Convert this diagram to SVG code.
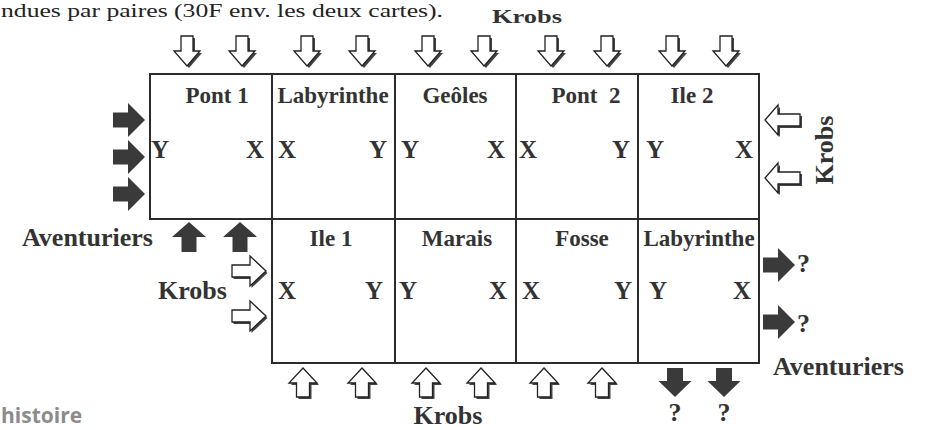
<svg xmlns="http://www.w3.org/2000/svg" width="926" height="430" viewBox="0 0 926 430">
<style>
.cell{fill:#fff;stroke:#2b2b2b;stroke-width:2}
.t{font-family:"Liberation Serif","Times New Roman",serif;font-weight:bold;fill:#333}
.title{font-size:23px;text-anchor:middle}
.xy{font-size:25px}
.lbl{font-size:26px}
.end{text-anchor:end}
.mid{text-anchor:middle}
.solid{fill:#3a3a3a}
.hol{fill:#fff;stroke:#222;stroke-width:1.3;stroke-linejoin:miter}
.sh{fill:#444}
</style>
<defs>
<path id="pSR" d="M0,-7.5 H15 V-17 L32,0 L15,17 V7.5 H0 Z"/>
<path id="pSU" d="M0,0 L17,15 H7.5 V30 H-7.5 V15 H-17 Z"/>
<path id="pSD" d="M-8,0 H8 V13 H16.5 L0,29 L-16.5,13 H-8 Z"/>
<path id="pHD" d="M-6,0 H6 V15 H13 L0,30 L-13,15 H-6 Z"/>
<path id="pHU" d="M0,0 L14,15 H6.5 V29 H-6.5 V15 H-14 Z"/>
<path id="pHR" d="M0,-6 H18 V-15 L34,0 L18,15 V6 H0 Z"/>
<path id="pHL" d="M0,0 L13,-15 V-6 H35 V6 H13 V15 Z"/>
<g id="aSR" class="solid"><use href="#pSR"/></g>
<g id="aSU" class="solid"><use href="#pSU"/></g>
<g id="aSD" class="solid"><use href="#pSD"/></g>
<g id="aHD"><use href="#pHD" class="sh" transform="translate(2,2)"/><use href="#pHD" class="hol"/></g>
<g id="aHU"><use href="#pHU" class="sh" transform="translate(2,2)"/><use href="#pHU" class="hol"/></g>
<g id="aHR"><use href="#pHR" class="sh" transform="translate(1.5,2)"/><use href="#pHR" class="hol"/></g>
<g id="aHL"><use href="#pHL" class="sh" transform="translate(2,2)"/><use href="#pHL" class="hol"/></g>
</defs>
<rect width="926" height="430" fill="#fff"/>
<text x="1" y="17" font-family="'Liberation Serif','Times New Roman',serif" font-size="18" fill="#222" textLength="442" lengthAdjust="spacingAndGlyphs">ndues par paires (30F env. les deux cartes).</text>

<g id="top-pont1">
<rect class="cell" x="150" y="74" width="122" height="145"/>
<text class="t title" x="217" y="103">Pont 1</text>
<text class="t xy" x="151" y="158">Y</text>
<text class="t xy end" x="264" y="158">X</text>
</g>
<g id="top-labyrinthe">
<rect class="cell" x="272" y="74" width="123" height="145"/>
<text class="t title" x="333" y="103">Labyrinthe</text>
<text class="t xy" x="278" y="158">X</text>
<text class="t xy end" x="387" y="158">Y</text>
</g>
<g id="top-geoles">
<rect class="cell" x="395" y="74" width="121" height="145"/>
<text class="t title" x="455" y="103">Geôles</text>
<text class="t xy" x="401" y="158">Y</text>
<text class="t xy end" x="505" y="158">X</text>
</g>
<g id="top-pont2">
<rect class="cell" x="516" y="74" width="122" height="145"/>
<text class="t title" x="586" y="103" xml:space="preserve">Pont  2</text>
<text class="t xy" x="519" y="158">X</text>
<text class="t xy end" x="630" y="158">Y</text>
</g>
<g id="top-ile2">
<rect class="cell" x="638" y="74" width="121" height="145"/>
<text class="t title" x="692" y="103">Ile 2</text>
<text class="t xy" x="646" y="158">Y</text>
<text class="t xy end" x="753" y="158">X</text>
</g>

<g id="bot-ile1">
<rect class="cell" x="272" y="219" width="123" height="144"/>
<text class="t title" x="331" y="246">Ile 1</text>
<text class="t xy" x="278" y="299">X</text>
<text class="t xy end" x="383" y="299">Y</text>
</g>
<g id="bot-marais">
<rect class="cell" x="395" y="219" width="121" height="144"/>
<text class="t title" x="457" y="246">Marais</text>
<text class="t xy" x="399" y="299">Y</text>
<text class="t xy end" x="507" y="299">X</text>
</g>
<g id="bot-fosse">
<rect class="cell" x="516" y="219" width="122" height="144"/>
<text class="t title" x="582" y="246">Fosse</text>
<text class="t xy" x="522" y="299">X</text>
<text class="t xy end" x="632" y="299">Y</text>
</g>
<g id="bot-labyrinthe">
<rect class="cell" x="638" y="219" width="121" height="144"/>
<text class="t title" x="699" y="246">Labyrinthe</text>
<text class="t xy" x="649" y="299">Y</text>
<text class="t xy end" x="751" y="299">X</text>
</g>

<g id="connectors">
<use href="#aHD" x="187" y="36"/><use href="#aHD" x="242" y="36"/>
<use href="#aHD" x="307" y="36"/><use href="#aHD" x="362" y="36"/>
<use href="#aHD" x="428" y="36"/><use href="#aHD" x="484" y="36"/>
<use href="#aHD" x="551" y="36"/><use href="#aHD" x="607" y="36"/>
<use href="#aHD" x="672" y="36"/><use href="#aHD" x="726" y="36"/>
<use href="#aSR" x="113" y="120"/><use href="#aSR" x="113" y="157"/><use href="#aSR" x="113" y="194"/>
<use href="#aSU" x="189" y="222"/><use href="#aSU" x="240" y="222"/>
<use href="#aHR" x="232" y="271"/><use href="#aHR" x="232" y="316"/>
<use href="#aHL" x="765" y="120"/><use href="#aHL" x="765" y="178"/>
<use href="#aSR" x="763" y="265"/><use href="#aSR" x="763" y="322"/>
<use href="#aHU" x="303" y="368"/><use href="#aHU" x="362" y="368"/>
<use href="#aHU" x="426" y="368"/><use href="#aHU" x="481" y="368"/>
<use href="#aHU" x="544" y="368"/><use href="#aHU" x="602" y="368"/>
<use href="#aSD" x="675" y="368"/><use href="#aSD" x="724" y="368"/>
</g>

<g id="labels">
<text class="t" x="492" y="23" font-size="18" textLength="70" lengthAdjust="spacingAndGlyphs">Krobs</text>
<text class="t lbl" x="22" y="246">Aventuriers</text>
<text class="t lbl" x="158" y="299">Krobs</text>
<text class="t lbl mid" x="833" y="150" transform="rotate(-90 833 150)">Krobs</text>
<text class="t lbl" x="797" y="272">?</text>
<text class="t lbl" x="797" y="332">?</text>
<text class="t lbl" x="773" y="375">Aventuriers</text>
<text class="t lbl mid" x="675" y="421">?</text>
<text class="t lbl mid" x="724" y="421">?</text>
<text class="t lbl mid" x="448" y="424">Krobs</text>
</g>
<text x="1" y="423" font-family="'Open Sans','Liberation Sans',sans-serif" font-weight="bold" font-size="21" fill="#8c8c8c">histoire</text>
</svg>
